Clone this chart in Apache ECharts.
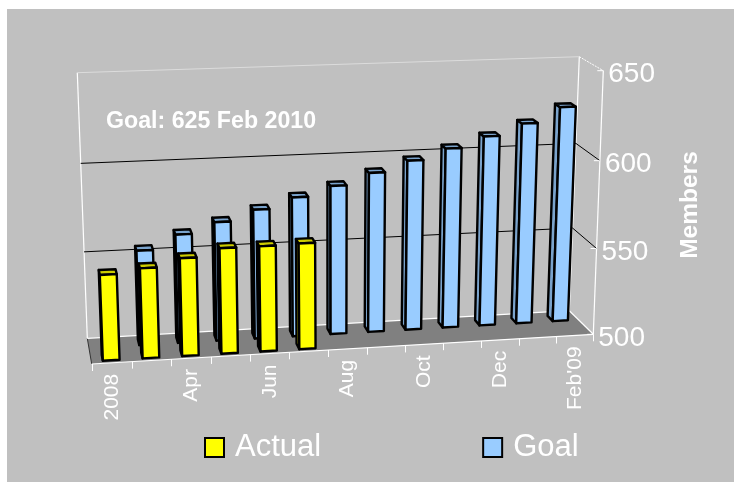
<!DOCTYPE html>
<html><head><meta charset="utf-8">
<script src="https://cdn.jsdelivr.net/npm/echarts@6/dist/echarts.min.js"></script>
<style>html,body{margin:0;padding:0;background:#fff;overflow:hidden}#c{width:734px;height:483px}</style>
</head><body><div id="c"></div>
<script>
const categories = ['2008','Mar','Apr','May','Jun','Jul','Aug','Sep','Oct','Nov','Dec','Jan',"Feb'09"];
const actual = [548,550.5,555,559.5,559.5,560,null,null,null,null,null,null,null];
const goal = [null,554,562,568,574,580,585.5,592,598,604,610,616.5,625];
const valueTicks = [500,550,600,650];
const gridValues = [550,600];
const note = 'Goal: 625 Feb 2010';
const axisName = 'Members';

const C = {
  FLB:[91.7,364], FRB:[593.3,334.3], BLB:[87.3,338.3], BRB:[569.3,310.7],
  FLT:[81.5,88], FRT:[603.3,70.7], BLT:[77.3,72.7], BRT:[579.3,56.7]
};
const warp=(t,a)=>a*t/(1+(a-1)*t);
const mix=(a,b,t)=>[a[0]+(b[0]-a[0])*t,a[1]+(b[1]-a[1])*t];
function P(u,d,v){
  const U=warp(u,1.04), V=warp(v,0.965);
  const bF=mix(C.FLB,C.FRB,U), bB=mix(C.BLB,C.BRB,U), tF=mix(C.FLT,C.FRT,U), tB=mix(C.BLT,C.BRT,U);
  return mix(mix(bF,bB,d),mix(tF,tB,d),V);
}
function norm(api,params,cat,val){
  const s=params.coordSys, p=api.coord([cat,val]);
  return [(p[0]-s.x)/s.width, (s.y+s.height-p[1])/s.height];
}
const poly=(pts,fill,w)=>({type:'polygon',shape:{points:pts},style:{fill:fill,stroke:'#000',lineWidth:w==null?2.4:w,lineJoin:'round'}});
const seg=(a,b,col,w)=>({type:'line',shape:{x1:a[0],y1:a[1],x2:b[0],y2:b[1]},style:{stroke:col,lineWidth:w||1,fill:null}});

function barRenderer(dFront,dBack,front,top,side){
  return function(params,api){
    const val=api.value(1);
    if(val==null||isNaN(val)) return {type:'group',children:[]};
    const i=api.value(0), s=params.coordSys;
    const cw=api.size([1,0])[0]/s.width;
    const [uc,v]=norm(api,params,i,val);
    const base=norm(api,params,i,valueTicks[0])[1];
    const u0=uc-cw*0.21,u1=uc+cw*0.21;
    const a=P(u0,dFront,base),b=P(u1,dFront,base),c=P(u1,dFront,v),e=P(u0,dFront,v);
    const a2=P(u0,dBack,base),e2=P(u0,dBack,v),c2=P(u1,dBack,v);
    return {type:'group',children:[
      poly([a2,a,e,e2],side),
      poly([e,c,c2,e2],top),
      poly([a,b,c,e],front)
    ]};
  };
}
function frameRenderer(params,api){
  const ch=[];
  const n=categories.length;
  ch.push({type:'polygon',shape:{points:[P(0,0,0),P(1,0,0),P(1,1,0),P(0,1,0)]},style:{fill:'#808080'}});
  ch.push(seg(P(0,0,0),P(0,1,0),'#333',1));
  ch.push(seg(P(0,1,0),P(1,1,0),'#fff',1.2));
  ch.push(seg(P(0,0,0),P(1,0,0),'#fff',1.2));
  ch.push(seg(P(1,0,0),P(1,1,0),'#fff',1.2));
  ch.push(seg(P(0,1,0),P(0,1,1),'#fff',1.2));
  ch.push(seg(P(1,1,0),P(1,1,1),'#fff',1.2));
  ch.push(seg(P(1,0,0),P(1,0,1),'#fff',1.2));
  ch.push(seg(P(0,1,1),P(1,1,1),'#dcdcdc',1));
  ch.push({type:'line',shape:{x1:P(1,1,1)[0],y1:P(1,1,1)[1],x2:P(1,0,1)[0],y2:P(1,0,1)[1]},style:{stroke:'#fff',lineWidth:1,lineDash:[2,1]}});
  gridValues.forEach(g=>{
    const v=norm(api,params,0,g)[1];
    ch.push(seg(P(0,1,v),P(1,1,v),'#000',1));
    ch.push(seg(P(1,1,v),P(1,0,v),'#000',1));
  });
  valueTicks.forEach(t=>{
    const v=norm(api,params,0,t)[1], p=P(1,0,v);
    ch.push(seg([p[0]-6,p[1]],p,'#fff',1));
    ch.push({type:'text',x:p[0]+5,y:p[1]+4,style:{text:String(t),fill:'#fff',font:'28px "Liberation Sans", Arial, sans-serif',align:'left',verticalAlign:'middle'}});
  });
  for(let i=0;i<=n;i++){
    const p=P(i/n,0,0);
    ch.push(seg([Math.round(p[0])+0.5,p[1]],[Math.round(p[0])+0.5,p[1]+7],'#fff',1));
  }
  categories.forEach((c,i)=>{
    if(i%2) return;
    const uc=norm(api,params,i,valueTicks[0])[0], p=P(uc,0,0);
    ch.push({type:'text',x:p[0],y:p[1]+11,rotation:Math.PI/2,style:{text:c,fill:'#fff',font:'21px "Liberation Sans", Arial, sans-serif',align:'right',verticalAlign:'middle'}});
  });
  return {type:'group',children:ch};
}

const chart=echarts.init(document.getElementById('c'),null,{renderer:'canvas'});
chart.setOption({
  animation:false,
  backgroundColor:'#fff',
  graphic:[
    {type:'rect',z:-10,shape:{x:7,y:9,width:727,height:473},style:{fill:'#c0c0c0'}},
    {type:'text',z:10,x:106,y:122,style:{text:note,fill:'#fff',font:'bold 23.2px "Liberation Sans", Arial, sans-serif',verticalAlign:'middle'}},
    {type:'text',z:10,x:690,y:205,rotation:Math.PI/2,style:{text:axisName,fill:'#fff',font:'bold 24.5px "Liberation Sans", Arial, sans-serif',align:'center',verticalAlign:'middle'}}
  ],
  grid:{left:100,top:100,width:500,height:300,show:false},
  xAxis:{type:'category',data:categories,show:false},
  yAxis:{type:'value',min:500,max:650,interval:50,show:false},
  legend:{
    left:204,top:432,padding:0,icon:'rect',itemWidth:19,itemHeight:19,itemGap:161,
    data:['Actual','Goal'],selectedMode:false,
    textStyle:{color:'#fff',fontSize:31,padding:[6,0,0,6],fontFamily:'"Liberation Sans", Arial, sans-serif'},
    itemStyle:{borderColor:'#000',borderWidth:2}
  },
  series:[
    {type:'custom',name:'frame',silent:true,coordinateSystem:'cartesian2d',data:[[0,500]],encode:{x:0,y:1},renderItem:frameRenderer,z:1},
    {type:'custom',name:'Goal',coordinateSystem:'cartesian2d',itemStyle:{color:'#99ccff'},
     data:goal.map((v,i)=>[i,v]),encode:{x:0,y:1},renderItem:barRenderer(0.62,0.84,'#99ccff','#7aa3cc','#7aa3cc'),z:2},
    {type:'custom',name:'Actual',coordinateSystem:'cartesian2d',itemStyle:{color:'#ffff00'},
     data:actual.map((v,i)=>[i,v]),encode:{x:0,y:1},renderItem:barRenderer(0.1,0.32,'#ffff00','#cccc00','#cccc00'),z:3}
  ]
});
</script></body></html>
